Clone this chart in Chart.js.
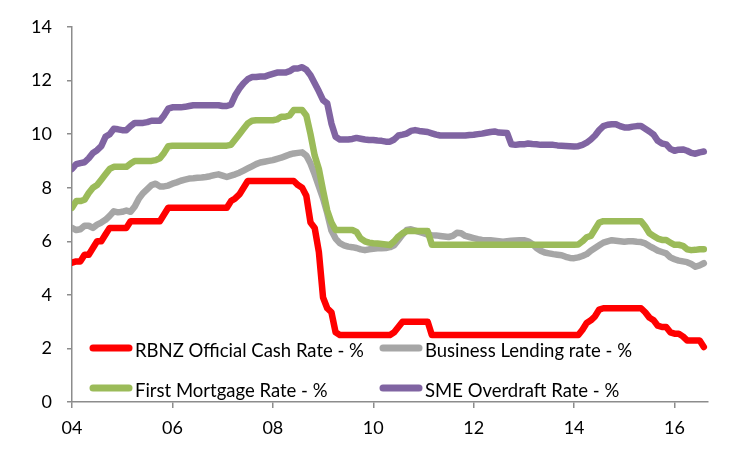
<!DOCTYPE html>
<html>
<head>
<meta charset="utf-8">
<title>NZ interest rates</title>
<script src="https://cdn.jsdelivr.net/npm/chart.js@4/dist/chart.umd.min.js"></script>
<style>
    html, body { margin: 0; padding: 0; background: #fff; }
    #wrap { width: 751px; height: 451px; }
</style>
</head>
<body>
<div id="wrap"><canvas id="rateChart" width="751" height="451"></canvas></div>
<script>
'use strict';

// monthly series, Jan 2004 .. Aug 2016 (one row per year)
var startYear = 2004;
var xTicks = [2004, 2006, 2008, 2010, 2012, 2014, 2016];
var yTicks = [0, 2, 4, 6, 8, 10, 12, 14];
var seriesNames = ['RBNZ Official Cash Rate - %', 'Business Lending rate - %',
    'First Mortgage Rate - %', 'SME Overdraft Rate - %'];
var seriesColors = ['#ff0000', '#a6a6a6', '#9bbb59', '#8064a2'];

var ocrRate = [
    5.2, 5.25, 5.25, 5.5, 5.5, 5.75, 6.0, 6.0, 6.25, 6.5, 6.5, 6.5,
    6.5, 6.5, 6.75, 6.75, 6.75, 6.75, 6.75, 6.75, 6.75, 6.75, 7.0, 7.25,
    7.25, 7.25, 7.25, 7.25, 7.25, 7.25, 7.25, 7.25, 7.25, 7.25, 7.25, 7.25,
    7.25, 7.25, 7.5, 7.6, 7.75, 8.0, 8.25, 8.25, 8.25, 8.25, 8.25, 8.25,
    8.25, 8.25, 8.25, 8.25, 8.25, 8.25, 8.1, 8.0, 7.7, 6.7, 6.5, 5.6,
    3.9, 3.5, 3.35, 2.6, 2.5, 2.5, 2.5, 2.5, 2.5, 2.5, 2.5, 2.5,
    2.5, 2.5, 2.5, 2.5, 2.5, 2.6, 2.8, 3.0, 3.0, 3.0, 3.0, 3.0,
    3.0, 3.0, 2.5, 2.5, 2.5, 2.5, 2.5, 2.5, 2.5, 2.5, 2.5, 2.5,
    2.5, 2.5, 2.5, 2.5, 2.5, 2.5, 2.5, 2.5, 2.5, 2.5, 2.5, 2.5,
    2.5, 2.5, 2.5, 2.5, 2.5, 2.5, 2.5, 2.5, 2.5, 2.5, 2.5, 2.5,
    2.5, 2.5, 2.7, 2.95, 3.05, 3.2, 3.45, 3.5, 3.5, 3.5, 3.5, 3.5,
    3.5, 3.5, 3.5, 3.5, 3.5, 3.35, 3.15, 3.05, 2.85, 2.8, 2.8, 2.6,
    2.55, 2.55, 2.45, 2.3, 2.3, 2.3, 2.3, 2.05
];

var businessRate = [
    6.5, 6.42, 6.45, 6.58, 6.58, 6.5, 6.62, 6.7, 6.8, 6.95, 7.12, 7.08,
    7.1, 7.15, 7.1, 7.3, 7.6, 7.8, 7.95, 8.1, 8.15, 8.05, 8.05, 8.08,
    8.15, 8.2, 8.26, 8.3, 8.34, 8.35, 8.37, 8.38, 8.4, 8.43, 8.47, 8.5,
    8.45, 8.4, 8.45, 8.5, 8.56, 8.64, 8.72, 8.8, 8.88, 8.94, 8.97, 9.0,
    9.03, 9.08, 9.12, 9.18, 9.24, 9.28, 9.3, 9.32, 9.2, 8.9, 8.5, 8.05,
    7.6, 7.05, 6.4, 6.1, 5.93, 5.85, 5.8, 5.78, 5.75, 5.7, 5.67, 5.7,
    5.72, 5.74, 5.74, 5.75, 5.78, 5.85, 6.05, 6.25, 6.42, 6.45, 6.4, 6.35,
    6.3, 6.25, 6.23, 6.22, 6.2, 6.18, 6.16, 6.2, 6.32, 6.3, 6.2, 6.16,
    6.12, 6.08, 6.05, 6.04, 6.04, 6.02, 6.0, 5.98, 6.0, 6.02, 6.03, 6.04,
    6.04, 6.0, 5.9, 5.75, 5.65, 5.58, 5.55, 5.52, 5.5, 5.48, 5.42, 5.38,
    5.37, 5.4, 5.45, 5.52, 5.65, 5.75, 5.85, 5.95, 6.0, 6.04, 6.02, 6.0,
    5.98, 6.0, 6.0, 5.98, 5.97, 5.92, 5.82, 5.74, 5.65, 5.6, 5.55, 5.4,
    5.33, 5.28, 5.25, 5.22, 5.15, 5.05, 5.1, 5.18
];

var mortgageRate = [
    7.25, 7.5, 7.5, 7.55, 7.8, 8.0, 8.1, 8.3, 8.5, 8.7, 8.78, 8.78,
    8.78, 8.78, 8.9, 9.0, 9.0, 9.0, 9.0, 9.0, 9.03, 9.1, 9.3, 9.55,
    9.57, 9.57, 9.57, 9.57, 9.57, 9.57, 9.57, 9.57, 9.57, 9.57, 9.57, 9.57,
    9.57, 9.57, 9.6, 9.8, 10.0, 10.2, 10.4, 10.5, 10.52, 10.52, 10.52, 10.52,
    10.52, 10.55, 10.65, 10.65, 10.7, 10.9, 10.9, 10.9, 10.7, 10.0, 9.2, 8.7,
    7.9, 7.15, 6.7, 6.42, 6.42, 6.42, 6.42, 6.42, 6.35, 6.1, 6.0, 5.95,
    5.93, 5.92, 5.9, 5.88, 5.86, 6.0, 6.18, 6.3, 6.38, 6.38, 6.38, 6.38,
    6.38, 6.38, 5.87, 5.87, 5.87, 5.87, 5.87, 5.87, 5.87, 5.87, 5.87, 5.87,
    5.87, 5.87, 5.87, 5.87, 5.87, 5.87, 5.87, 5.87, 5.87, 5.87, 5.87, 5.87,
    5.87, 5.87, 5.87, 5.87, 5.87, 5.87, 5.87, 5.87, 5.87, 5.87, 5.87, 5.87,
    5.87, 5.88, 6.0, 6.15, 6.2, 6.45, 6.7, 6.75, 6.75, 6.75, 6.75, 6.75,
    6.75, 6.75, 6.75, 6.75, 6.75, 6.55, 6.3, 6.2, 6.1, 6.05, 6.05, 5.95,
    5.87, 5.87, 5.83, 5.7, 5.67, 5.68, 5.7, 5.7
];

var overdraftRate = [
    8.7, 8.88, 8.92, 8.95, 9.1, 9.3, 9.4, 9.55, 9.9, 10.0, 10.2, 10.18,
    10.15, 10.15, 10.3, 10.42, 10.42, 10.42, 10.45, 10.5, 10.5, 10.5, 10.7, 10.95,
    11.0, 11.0, 11.0, 11.02, 11.05, 11.08, 11.08, 11.08, 11.08, 11.08, 11.08, 11.08,
    11.05, 11.05, 11.1, 11.45, 11.7, 11.9, 12.05, 12.13, 12.13, 12.15, 12.15, 12.2,
    12.25, 12.3, 12.3, 12.3, 12.35, 12.45, 12.45, 12.5, 12.4, 12.2, 11.9, 11.6,
    11.27, 11.15, 10.4, 9.9, 9.8, 9.8, 9.8, 9.82, 9.86, 9.83, 9.8, 9.78,
    9.78, 9.76, 9.75, 9.72, 9.72, 9.8, 9.95, 9.98, 10.02, 10.12, 10.15, 10.12,
    10.1, 10.08, 10.03, 9.98, 9.95, 9.95, 9.95, 9.95, 9.95, 9.95, 9.95, 9.97,
    9.98, 10.0, 10.02, 10.05, 10.08, 10.1, 10.06, 10.05, 10.04, 9.62, 9.6, 9.62,
    9.62, 9.65, 9.63, 9.62, 9.6, 9.6, 9.6, 9.6, 9.58, 9.57, 9.56, 9.55,
    9.54, 9.55, 9.6, 9.68, 9.8, 9.95, 10.15, 10.3, 10.35, 10.37, 10.37, 10.3,
    10.25, 10.25, 10.28, 10.3, 10.3, 10.2, 10.1, 9.98, 9.75, 9.65, 9.62, 9.45,
    9.38, 9.42, 9.43, 9.38, 9.3, 9.27, 9.32, 9.35
];

var axisColor = '#8c8c8c';
var fontFamily = 'Lato, "Open Sans", sans-serif';

function toPoints(values) {
    var points = [];
    for (var i = 0; i < values.length; i++) {
        points.push({ x: startYear + i / 12, y: values[i] });
    }
    return points;
}

function makeDataset(index, values) {
    return {
        label: seriesNames[index],
        data: toPoints(values),
        borderColor: seriesColors[index],
        backgroundColor: seriesColors[index],
        borderWidth: 6.5,
        borderCapStyle: 'round',
        borderJoinStyle: 'round',
        pointRadius: 0,
        tension: 0,
        // excel paints later series on top
        order: 4 - index
    };
}

// legend drawn inside the plot, two columns, lower left
var insideLegend = {
    id: 'insideLegend',
    afterDraw: function (chart) {
        var ctx = chart.ctx;
        var area = chart.chartArea;
        var cols = [area.left + 18, area.left + 308];
        var rows = [area.bottom - 54, area.bottom - 14];
        var sampleLen = 42;

        ctx.save();
        ctx.font = '18.5px ' + fontFamily;
        ctx.fillStyle = '#000';
        ctx.textBaseline = 'middle';
        ctx.textAlign = 'left';
        ctx.lineCap = 'round';
        for (var i = 0; i < chart.data.datasets.length; i++) {
            var ds = chart.data.datasets[i];
            var x = cols[i % 2];
            var y = rows[Math.floor(i / 2)];
            ctx.strokeStyle = ds.borderColor;
            ctx.lineWidth = 7;
            ctx.beginPath();
            ctx.moveTo(x + 3, y);
            ctx.lineTo(x + sampleLen - 3, y);
            ctx.stroke();
            ctx.fillText(ds.label, x + sampleLen + 3, y + 3);
        }
        ctx.restore();
    }
};

function createChart() {
    var ctx = document.getElementById('rateChart').getContext('2d');

    Chart.defaults.color = '#000';
    Chart.defaults.font.family = fontFamily;

    return new Chart(ctx, {
        type: 'line',
        data: {
            datasets: [
                makeDataset(0, ocrRate),
                makeDataset(1, businessRate),
                makeDataset(2, mortgageRate),
                makeDataset(3, overdraftRate)
            ]
        },
        options: {
            responsive: false,
            animation: false,
            events: [],
            layout: { padding: { top: 27, right: 43, left: 0, bottom: 0 } },
            plugins: {
                legend: { display: false },
                tooltip: { enabled: false }
            },
            scales: {
                x: {
                    type: 'linear',
                    min: startYear,
                    max: startYear + 152 / 12,
                    afterBuildTicks: function (scale) {
                        scale.ticks = xTicks.map(function (v) { return { value: v }; });
                    },
                    afterFit: function (scale) { scale.height = 49; },
                    border: { color: axisColor, width: 1.5 },
                    grid: { drawOnChartArea: false, color: axisColor, lineWidth: 1.5, tickLength: 6 },
                    ticks: {
                        autoSkip: false,
                        maxRotation: 0,
                        padding: 9,
                        font: { size: 18 },
                        callback: function (v) { return String(v).slice(2); }
                    }
                },
                y: {
                    min: 0,
                    max: 14,
                    afterBuildTicks: function (scale) {
                        scale.ticks = yTicks.map(function (v) { return { value: v }; });
                    },
                    afterFit: function (scale) { scale.width = 72; },
                    border: { color: axisColor, width: 1.5 },
                    grid: { drawOnChartArea: false, color: axisColor, lineWidth: 1.5, tickLength: 5 },
                    ticks: {
                        padding: 15,
                        font: { size: 18 }
                    }
                }
            }
        },
        plugins: [insideLegend]
    });
}

createChart();
</script>
</body>
</html>
